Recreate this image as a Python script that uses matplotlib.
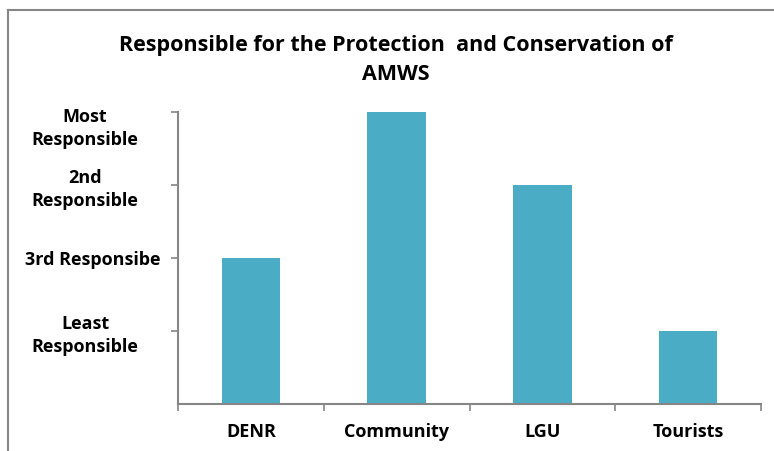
import matplotlib
matplotlib.use('Agg')
import matplotlib.pyplot as plt
import matplotlib.transforms as mtransforms
from matplotlib.lines import Line2D

categories = ['DENR', 'Community', 'LGU', 'Tourists']
values = [2, 4, 3, 1]
ytick_vals = [1, 2, 3, 4]
ytick_labels = ['Least\nResponsible', '3rd Responsibe', '2nd\nResponsible', 'Most\nResponsible']

plt.rcParams['font.family'] = ['Open Sans', 'DejaVu Sans']
plt.rcParams['font.weight'] = 'bold'

fig = plt.figure(figsize=(7.74, 4.51), dpi=100)
ax = fig.add_axes([178/774, 1 - 404/451, (761 - 178)/774, (404 - 112)/451])

x = range(len(categories))
ax.bar(x, values, width=0.4, color='#4BACC6')

ax.set_xlim(-0.5, len(categories) - 0.5)
ax.set_ylim(0, 4)
ax.set_xticks(x)
ax.set_xticklabels(categories, fontsize=13, fontweight='bold')
ax.set_xticks([i + 0.5 for i in range(-1, len(categories))], minor=True)
ax.tick_params(axis='x', which='major', length=0, pad=14)
ax.tick_params(axis='x', which='minor', length=5, width=1.2, color='#868686', direction='out')

ax.set_yticks(ytick_vals)
labels = ax.set_yticklabels(ytick_labels, fontsize=13, fontweight='bold', ha='center',
                            multialignment='center', linespacing=1.35)
ax.tick_params(axis='y', length=5, width=1.2, color='#868686', pad=62)

# nudge labels the way the original layout places them
shifts = {1: (8, 0), 3: (0, -12)}
for i, (dx, dy) in shifts.items():
    off = mtransforms.ScaledTranslation(dx/100, dy/100, fig.dpi_scale_trans)
    labels[i].set_transform(labels[i].get_transform() + off)

for s in ['top', 'right']:
    ax.spines[s].set_visible(False)
for s in ['left', 'bottom']:
    ax.spines[s].set_color('#868686')
    ax.spines[s].set_linewidth(1.5)

fig.text(396/774, 1 - 45/451, 'Responsible for the Protection  and Conservation of',
         ha='center', va='center', fontsize=15.5, fontweight='bold')
fig.text(396/774, 1 - 74/451, 'AMWS', ha='center', va='center', fontsize=15.5, fontweight='bold')

# outer chart frame (partially visible)
fig.add_artist(Line2D([8/774, 8/774], [0, 1 - 10/451], transform=fig.transFigure, color='#868686', lw=1.5))
fig.add_artist(Line2D([8/774, 1], [1 - 10/451, 1 - 10/451], transform=fig.transFigure, color='#868686', lw=1.5))

fig.savefig('out.png', dpi=100)
